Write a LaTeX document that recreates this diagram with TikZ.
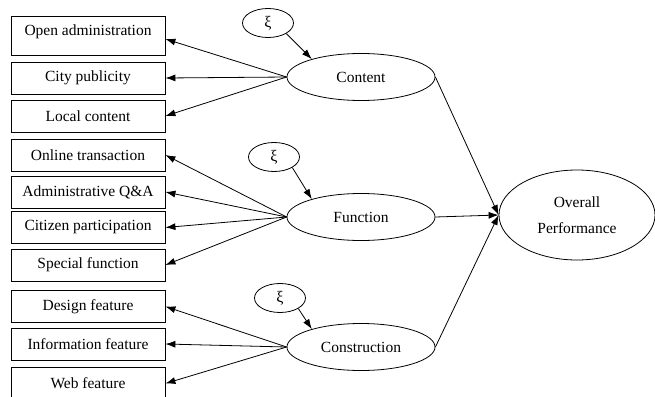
\documentclass[tikz,border=0pt]{standalone}
\usepackage{fontspec}
\setmainfont{Liberation Serif}
\usetikzlibrary{shapes.geometric,arrows.meta}

\begin{document}
\begin{tikzpicture}[x=1pt,y=-1pt,line width=0.8pt,
		ind/.style={draw,minimum width=154pt,minimum height=32pt,inner sep=0pt,font=\fontsize{15.5}{18}\selectfont},
		lat/.style={draw,ellipse,minimum width=148pt,minimum height=47pt,inner sep=0pt,font=\fontsize{15.5}{18}\selectfont},
		err/.style={draw,ellipse,minimum width=51pt,minimum height=29pt,inner sep=0pt,font=\fontsize{16}{18}\selectfont}]
	\clip (0,0) rectangle (655,396);
	\node[ind,minimum height=39pt,text depth=10pt] (adm) at (88,35.5) {Open administration};
	\node[ind] (pub) at (88,78) {City publicity};
	\node[ind] (loc) at (88,116) {Local content};
	\node[ind] (onl) at (88,155) {Online transaction};
	\node[ind] (qa) at (88,192) {Administrative Q\&A};
	\node[ind] (cit) at (88,227.5) {Citizen participation};
	\node[ind] (spc) at (88,265) {Special function};
	\node[ind] (des) at (88,306.5) {Design feature};
	\node[ind] (inf) at (88,344) {Information feature};
	\node[ind] (web) at (88,383.5) {Web feature};

	\node[lat] (con) at (361,77) {Content};
	\node[lat] (fun) at (361,217) {Function};
	\node[lat] (cst) at (361,347) {Construction};
	\node[lat,minimum width=156pt,minimum height=90pt,align=center,font=\fontsize{15.5}{26}\selectfont] (perf) at (577,215) {Overall\\Performance};

	\node[err] (xi1) at (268,23) {ξ};
	\node[err] (xi2) at (274,157) {ξ};
	\node[err] (xi3) at (280,298) {ξ};

	\path[-{Latex[length=10pt,width=7pt]}]
	(con.west) edge ([yshift=-3.5pt]adm.east)
	(con.west) edge (pub.east)
	(con.west) edge (loc.east)
	(fun.west) edge (onl.east)
	(fun.west) edge (qa.east)
	(fun.west) edge (cit.east)
	(fun.west) edge (spc.east)
	(cst.west) edge (des.east)
	(cst.west) edge (inf.east)
	(cst.west) edge (web.east)
	(xi1.south east) edge (con.160)
	(xi2.south east) edge (fun.160)
	(xi3.south east) edge (cst.160)
	(con.east) edge (perf.west)
	(fun.east) edge (perf.west)
	(cst.east) edge (perf.west);
\end{tikzpicture}
\end{document}
